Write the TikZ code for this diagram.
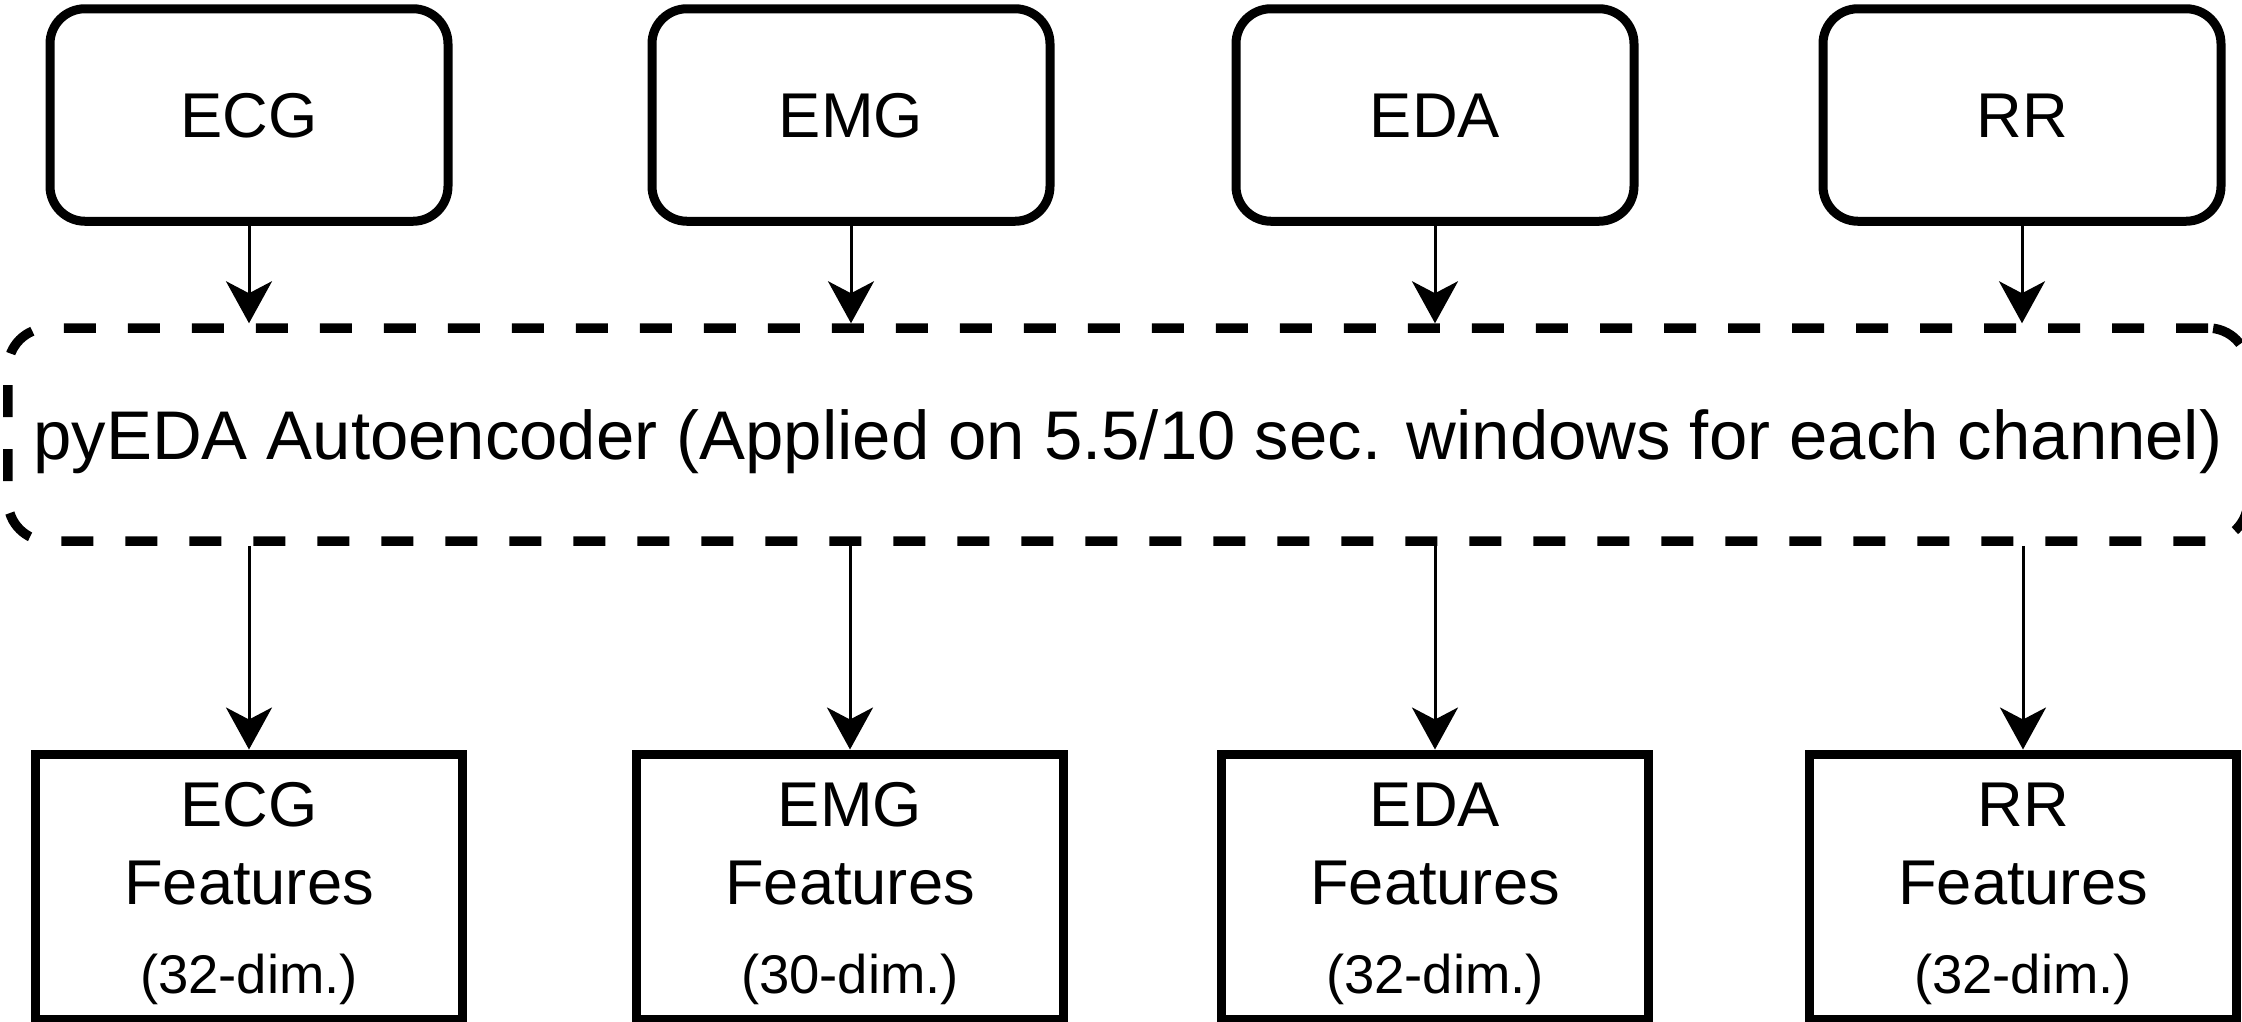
\documentclass[tikz,border=0pt]{standalone}
\usepackage{fontspec}
\setmainfont{Liberation Sans}
\usetikzlibrary{arrows.meta}
\tikzset{
	sigbox/.style={draw,line width=0.09cm,rounded corners=0.35cm,minimum width=3.98cm,minimum height=2.125cm,font=\fontsize{18}{21}\selectfont,text height=13pt,text depth=0pt},
	encbox/.style={draw,line width=0.095cm,dash pattern=on 0.32cm off 0.32cm,rounded corners=0.4cm,minimum width=22.4cm,minimum height=2.13cm,inner sep=0pt,font=\fontsize{19.6}{23}\selectfont,text height=14.1pt,text depth=0pt},
	featbox/.style={draw,line width=0.09cm,minimum width=4.27cm,minimum height=2.65cm,align=center,font=\fontsize{18}{22.2}\selectfont},
	flow/.style={line width=0.03cm,-{Stealth[length=0.42cm,width=0.46cm,inset=0.12cm]}}
}
\newcommand{\featlabel}[2]{\rule{0pt}{16.5pt}#1\\Features\\[3.2pt]{\fontsize{15.5}{18}\selectfont (#2-dim.)}}
\begin{document}
\begin{tikzpicture}
	\useasboundingbox (0,0) rectangle (22.42,-10.21);
	\node[sigbox] (ecg) at (2.49,-1.15) {ECG};
	\node[sigbox] (emg) at (8.51,-1.15) {EMG};
	\node[sigbox] (eda) at (14.35,-1.15) {EDA};
	\node[sigbox] (rr) at (20.22,-1.15) {RR};
	\node[encbox] (enc) at (11.28,-4.345) {pyEDA Autoencoder (Applied on 5.5/10 sec. windows for each channel)};
	\node[featbox] (ecgf) at (2.49,-8.865) {\featlabel{ECG}{32}};
	\node[featbox] (emgf) at (8.50,-8.865) {\featlabel{EMG}{30}};
	\node[featbox] (edaf) at (14.35,-8.865) {\featlabel{EDA}{32}};
	\node[featbox] (rrf) at (20.23,-8.865) {\featlabel{RR}{32}};
	% signals into the encoder
	\draw[flow] (ecg.south) -- (ecg.south |- enc.north);
	\draw[flow] (emg.south) -- (emg.south |- enc.north);
	\draw[flow] (eda.south) -- (eda.south |- enc.north);
	\draw[flow] (rr.south) -- (rr.south |- enc.north);
	% encoder out to features
	\draw[flow] (ecgf.north |- enc.south) -- (ecgf.north);
	\draw[flow] (emgf.north |- enc.south) -- (emgf.north);
	\draw[flow] (edaf.north |- enc.south) -- (edaf.north);
	\draw[flow] (rrf.north |- enc.south) -- (rrf.north);
\end{tikzpicture}
\end{document}
